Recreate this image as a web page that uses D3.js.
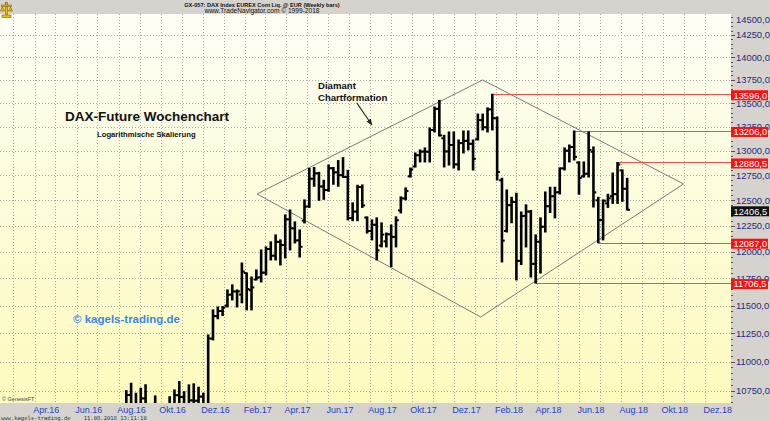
<!DOCTYPE html>
<html><head><meta charset="utf-8">
<script src="https://cdn.jsdelivr.net/npm/d3@7"></script>
<style>
html,body{margin:0;padding:0;background:#d6d3ce;}
svg{display:block;font-family:"Liberation Sans",Arial,sans-serif;}
</style></head><body>
<svg id="c" width="770" height="421"></svg>
<script>
// ---------- DATA ----------
const weeks = ["2016-08-05","2016-08-12","2016-08-19","2016-08-26","2016-09-02","2016-09-09","2016-09-16","2016-09-23","2016-09-30","2016-10-07","2016-10-14","2016-10-21","2016-10-28","2016-11-04","2016-11-11","2016-11-18","2016-11-25","2016-12-02","2016-12-09","2016-12-16","2016-12-23","2016-12-30",
"2017-01-06","2017-01-13","2017-01-20","2017-01-27","2017-02-03","2017-02-10","2017-02-17","2017-02-24","2017-03-03","2017-03-10","2017-03-17","2017-03-24","2017-03-31","2017-04-07","2017-04-14","2017-04-21","2017-04-28","2017-05-05","2017-05-12","2017-05-19","2017-05-26","2017-06-02","2017-06-09","2017-06-16","2017-06-23","2017-06-30","2017-07-07","2017-07-14","2017-07-21","2017-07-28","2017-08-04","2017-08-11","2017-08-18","2017-08-25","2017-09-01","2017-09-08","2017-09-15","2017-09-22","2017-09-29","2017-10-06","2017-10-13","2017-10-20","2017-10-27","2017-11-03","2017-11-10","2017-11-17","2017-11-24","2017-12-01","2017-12-08","2017-12-15","2017-12-22","2017-12-29",
"2018-01-05","2018-01-12","2018-01-19","2018-01-26","2018-02-02","2018-02-09","2018-02-16","2018-02-23","2018-03-02","2018-03-09","2018-03-16","2018-03-23","2018-03-30","2018-04-06","2018-04-13","2018-04-20","2018-04-27","2018-05-04","2018-05-11","2018-05-18","2018-05-25","2018-06-01","2018-06-08","2018-06-15","2018-06-22","2018-06-29","2018-07-06","2018-07-13","2018-07-20","2018-07-27","2018-08-03","2018-08-10"];

const openV = [10337,10370,10713,10544,10587,10684,10573,10276,10626,10511,10490,10580,10711,10696,10259,10667,10664,10699,10513,11203,11404,11450,
11500,11599,11629,11600,11800,11640,11740,11760,11804,12027,11963,12095,12064,12313,12225,12109,12300,12440,12716,12770,12638,12602,12822,12780,12752,12733,12325,12389,12632,12330,12200,12260,12060,12100,12168,12143,12400,12519,12740,12840,12955,12992,12991,13217,13440,13130,12994,13060,12861,13080,13103,13072,
13120,13320,13245,13434,13340,12700,12200,12452,12483,11914,12346,12389,11886,12096,12241,12442,12540,12580,12820,13001,13040,12880,12740,12766,12990,12500,12306,12470,12541,12561,12800,12615];

const highV = [10420,10750,10813,10728,10770,10800,10580,10705,10630,10630,10698,10756,10827,10741,10799,10808,10779,10728,11235,11460,11487,11490,
11643,11690,11643,11894,11800,11763,11829,12018,12047,12095,12162,12114,12356,12405,12288,12210,12504,12820,12830,12780,12700,12855,12830,12900,12930,12800,12475,12650,12653,12337,12307,12327,12278,12180,12258,12337,12534,12623,12824,12978,13009,13030,13238,13460,13530,13160,13196,13196,13112,13206,13206,13112,
13384,13384,13450,13596,13354,12720,12603,12530,12570,12385,12455,12400,12162,12327,12583,12630,12630,12824,13030,13060,13206,12886,12886,13196,13040,12530,12504,12560,12773,12880.5,12804,12720];

const lowV = [10100,10370,10500,10450,10500,10550,10190,10250,10170,10400,10420,10500,10630,10170,10170,10550,10600,10400,10480,11191,11380,11410,
11487,11551,11487,11525,11460,11460,11736,11717,11782,11923,11923,11876,11942,12018,12085,11951,12278,12430,12640,12500,12510,12590,12660,12640,12730,12307,12300,12300,12430,12180,12114,11923,12047,12047,11860,12047,12376,12504,12733,12835,12886,12886,12886,13196,13154,12835,12855,12824,12804,12978,13009,12804,
13112,13217,13196,13217,12703,11904,12190,12280,11736,11880,12047,11763,11706.5,11800,12190,12380,12327,12563,12804,12886,12906,12560,12733,12733,12434,12087,12114,12430,12470,12470,12490,12406.5];

const closeV = [10367,10713,10544,10587,10684,10573,10276,10626,10511,10490,10580,10711,10696,10259,10667,10664,10699,10513,11203,11404,11450,11481,
11599,11629,11630,11814,11651,11666,11757,11804,12027,11963,12095,12064,12313,12225,12109,12048,12438,12716,12770,12638,12602,12822,12780,12752,12733,12325,12389,12632,12450,12200,12260,12014,12165,12168,12143,12304,12519,12592,12810,12955,12992,12991,13217,13440,13160,12994,13060,12861,13080,13103,13072,12918,
13320,13245,13434,13340,12785,12107,12452,12483,11914,12346,12389,11886,12096,12241,12442,12540,12580,12820,13001,13040,12938,12724,12766,13010,12579,12306,12496,12520,12561,12860,12615,12406.5];

const yTickValues = [10750,11000,11250,11500,11750,12000,12250,12500,12750,13000,13250,13500,13750,14000,14250,14500];
const monthLabelDates = ["2016-04-01","2016-06-01","2016-08-01","2016-10-01","2016-12-01","2017-02-01","2017-04-01","2017-06-01","2017-08-01","2017-10-01","2017-12-01","2018-02-01","2018-04-01","2018-06-01","2018-08-01","2018-10-01","2018-12-01"];
const monthLabels = ["Apr.16","Jun.16","Aug.16","Okt.16","Dez.16","Feb.17","Apr.17","Jun.17","Aug.17","Okt.17","Dez.17","Feb.18","Apr.18","Jun.18","Aug.18","Okt.18","Dez.18"];

const levelValues = [13596, 13206, 12880.5, 12087, 11706.5];
const levelStart = ["2018-01-26","2018-05-25","2018-07-27","2018-06-29","2018-03-30"];
const lastClose = 12406.5;

const diamondDates = ["2017-02-18","2018-01-12","2018-10-31","2018-01-09"];
const diamondValues = [12563, 13751, 12663, 11396];
const arrowDates = ["2017-07-13","2017-08-04"];
const arrowValues = [13503, 13269];

// ---------- SETUP ----------
const P = d => new Date(d + "T00:00:00Z");
const svg = d3.select("#c");
const W = 770, H = 421, PL = 0, PR = 731, PT = 14, PB = 403;

const x = d3.scaleUtc()
  .domain([P("2017-01-01"), P("2018-01-01")])
  .range([224, 224 + 365 * 0.688]);
const y = d3.scaleLog().domain([10645, 14489]).range([PB, PT]);

const fmt = v => v.toFixed(1).replace(".", ",");

const defs = svg.append("defs");
const g1 = defs.append("linearGradient").attr("id","bg").attr("x1",0).attr("y1",0).attr("x2",0).attr("y2",1);
g1.append("stop").attr("offset","0%").attr("stop-color","#fefef6");
g1.append("stop").attr("offset","100%").attr("stop-color","#fdfbbd");
defs.append("clipPath").attr("id","clip").append("rect")
  .attr("x",PL).attr("y",PT).attr("width",PR-PL).attr("height",PB-PT);
defs.append("marker").attr("id","ah").attr("viewBox","0 0 10 10").attr("refX",9).attr("refY",5)
  .attr("markerWidth",6).attr("markerHeight",6).attr("orient","auto")
  .append("path").attr("d","M0,1 L10,5 L0,9 Z").attr("fill","#222");

svg.append("rect").attr("width",W).attr("height",H).attr("fill","#d6d3ce");
svg.append("rect").attr("x",PL).attr("y",PT).attr("width",PR-PL).attr("height",PB-PT).attr("fill","url(#bg)");

const plot = svg.append("g").attr("clip-path","url(#clip)");

// vertical monthly gridlines
const months = d3.utcMonth.range(P("2016-02-01"), P("2019-01-01")).filter(d => x(d) > PL + 1 && x(d) < PR);
plot.selectAll("line.vg").data(months).join("line")
  .attr("x1", d => Math.round(x(d)) + 0.5).attr("x2", d => Math.round(x(d)) + 0.5)
  .attr("y1", PT).attr("y2", PB)
  .attr("stroke","#a9a9a0").attr("stroke-width",1).attr("stroke-dasharray","1,2");

// horizontal gridlines
plot.selectAll("line.hg").data(yTickValues.filter(v => y(v) > PT && y(v) < PB)).join("line")
  .attr("x1", PL).attr("x2", PR)
  .attr("y1", d => Math.round(y(d)) + 0.5).attr("y2", d => Math.round(y(d)) + 0.5)
  .attr("stroke","#a9a9a0").attr("stroke-width",1).attr("stroke-dasharray","1,2");

// diamond formation
const dpts = diamondDates.map((d,i) => [x(P(d)), y(diamondValues[i])]);
plot.append("path")
  .attr("d", d3.line()(dpts) + "Z")
  .attr("fill","none").attr("stroke","#7a7a7a").attr("stroke-width",1);

// level lines
plot.selectAll("line.lvl").data(levelValues).join("line")
  .attr("x1", (d,i) => x(P(levelStart[i]))).attr("x2", PR)
  .attr("y1", d => Math.round(y(d)) + 0.5).attr("y2", d => Math.round(y(d)) + 0.5)
  .attr("stroke","#ff4a4a").attr("stroke-width",1);

// OHLC bars
const bars = weeks.map((d,i) => ({date:P(d), o:openV[i], h:highV[i], l:lowV[i], c:closeV[i]}));
const bg = plot.append("g").attr("stroke","#000");
bars.forEach(b => {
  const cx = x(b.date);
  bg.append("line").attr("x1",cx).attr("x2",cx).attr("y1",y(b.h)-0.5).attr("y2",y(b.l)+0.5).attr("stroke-width",2.6);
  bg.append("line").attr("x1",cx-2.8).attr("x2",cx).attr("y1",y(b.o)).attr("y2",y(b.o)).attr("stroke-width",2);
  bg.append("line").attr("x1",cx).attr("x2",cx+2.8).attr("y1",y(b.c)).attr("y2",y(b.c)).attr("stroke-width",2);
});

// right axis ticks & labels
const minor = d3.range(10650, 14500, 50).filter(v => y(v) > PT && y(v) < PB);
svg.selectAll("line.mt").data(minor).join("line")
  .attr("x1",PR).attr("x2", d => PR + (yTickValues.includes(d) ? 4 : 2))
  .attr("y1", d => Math.round(y(d))+0.5).attr("y2", d => Math.round(y(d))+0.5)
  .attr("stroke","#555").attr("stroke-width",1);
svg.selectAll("text.yl").data(yTickValues).join("text")
  .attr("x", 736).attr("y", d => Math.max(y(d), 20) + 3.3)
  .attr("font-size", 9.4).attr("fill","#1d2a7d")
  .text(d => fmt(d));

// level boxes
const boxG = svg.append("g");
levelValues.forEach(v => {
  const cy = y(v) + 1;
  boxG.append("rect").attr("x",731).attr("y",cy-5).attr("width",37).attr("height",10).attr("fill","#ff1010");
  boxG.append("text").attr("x",733.5).attr("y",cy+3.4).attr("font-size",9.3).attr("fill","#fff").text(fmt(v));
});
{
  const cy = y(lastClose) + 1.5;
  boxG.append("rect").attr("x",731).attr("y",cy-5).attr("width",38).attr("height",10).attr("fill","#111");
  boxG.append("text").attr("x",733.5).attr("y",cy+3.4).attr("font-size",9.3).attr("fill","#fff").text(fmt(lastClose));
}

// bottom month labels
svg.selectAll("text.ml").data(monthLabels).join("text")
  .attr("x", (d,i) => x(P(monthLabelDates[i])) - 1.5).attr("y", 413.3)
  .attr("font-size", 9).attr("fill","#2343c4")
  .text(d => d);

// header
svg.append("text").attr("x",262).attr("y",6.6).attr("text-anchor","middle")
  .attr("font-size",5.6).attr("font-weight","bold").attr("fill","#111")
  .text("GX-057:  DAX Index EUREX Cont Liq. @ EUR  (Weekly bars)");
svg.append("text").attr("x",262).attr("y",13).attr("text-anchor","middle")
  .attr("font-size",6.6).attr("fill","#111")
  .text("www.TradeNavigator.com \u00a9 1999-2018");

// logo (balance scale)
const lg = svg.append("g").attr("fill","#f2c400").attr("stroke","#7a5a00").attr("stroke-width",0.6);
lg.append("rect").attr("x",5.5).attr("y",2.5).attr("width",2).attr("height",13);
lg.append("rect").attr("x",1.5).attr("y",5).attr("width",10).attr("height",1.6);
lg.append("path").attr("d","M0.5,11 L4.5,11 L2.5,7 Z");
lg.append("path").attr("d","M8.5,11 L12.5,11 L10.5,7 Z");
lg.append("rect").attr("x",2).attr("y",15).attr("width",9).attr("height",2.5);

// annotations
svg.append("text").attr("x",65).attr("y",120.5).attr("font-size",13.5).attr("font-weight","bold").attr("fill","#111")
  .text("DAX-Future Wochenchart");
svg.append("text").attr("x",97).attr("y",136.5).attr("font-size",7.7).attr("font-weight","bold").attr("fill","#111")
  .text("Logarithmische Skalierung");
svg.append("text").attr("x",318).attr("y",88.5).attr("font-size",9.6).attr("font-weight","bold").attr("fill","#111")
  .text("Diamant");
svg.append("text").attr("x",318).attr("y",100.5).attr("font-size",9.6).attr("font-weight","bold").attr("fill","#111")
  .text("Chartformation");
svg.append("line")
  .attr("x1", x(P(arrowDates[0]))).attr("y1", y(arrowValues[0]))
  .attr("x2", x(P(arrowDates[1]))).attr("y2", y(arrowValues[1]))
  .attr("stroke","#222").attr("stroke-width",1.1).attr("marker-end","url(#ah)");
svg.append("text").attr("x",73).attr("y",323).attr("font-size",11.5).attr("font-weight","bold").attr("fill","#3a86f0")
  .text("\u00a9 kagels-trading.de");
svg.append("text").attr("x",2).attr("y",401).attr("font-size",5.5).attr("fill","#444")
  .text("\u00a9 GenesisFT");
svg.append("text").attr("x",1).attr("y",420).attr("font-size",5.5).attr("fill","#333")
  .attr("font-family","'DejaVu Sans Mono',monospace").attr("xml:space","preserve")
  .text("www.kagels-trading.de    11.08.2018 13:11:10");
</script>
</body></html>
